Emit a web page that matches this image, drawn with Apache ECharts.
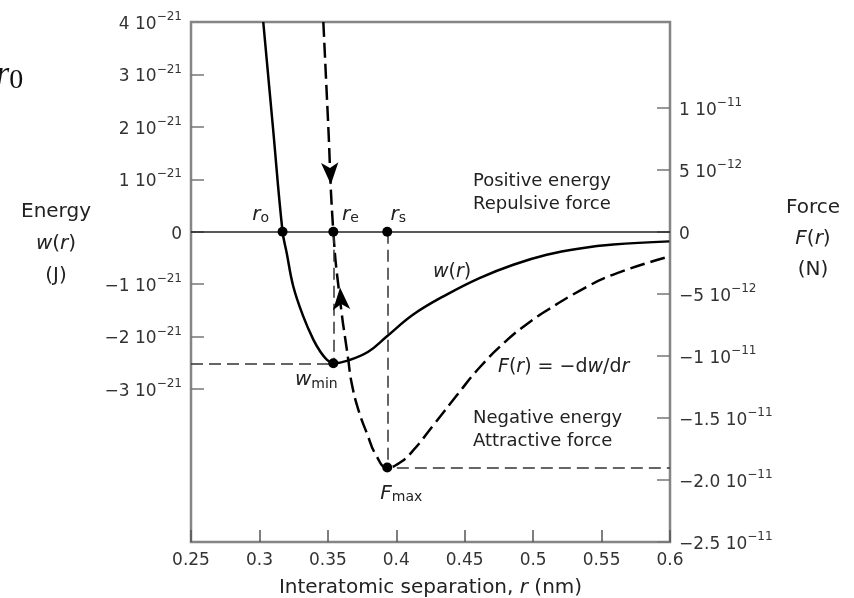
<!DOCTYPE html>
<html>
<head>
<meta charset="utf-8">
<script src="https://cdn.jsdelivr.net/npm/echarts@6/dist/echarts.min.js"></script>
<style>
  html, body { margin: 0; padding: 0; background: #fff; }
  #chart { width: 854px; height: 598px; }
</style>
</head>
<body>
<div id="chart"></div>
<script>
// energy curve w(r), energy in units of 1e-21 J
const rW = [0.3028, 0.3097, 0.3169, 0.3199, 0.3247, 0.3321, 0.3394, 0.3443, 0.3492, 0.354,
  0.3645, 0.3795, 0.393, 0.4124, 0.4368, 0.4612, 0.4855, 0.5099, 0.5342, 0.5586, 0.5995]
const wVals = [4.0, 2.04, 0, -0.40, -1.04, -1.62, -2.06, -2.28, -2.44, -2.51,
  -2.46, -2.29, -2.0, -1.58, -1.20, -0.88, -0.63, -0.44, -0.32, -0.245, -0.185]

// force curve F(r), force in units of 1e-11 N
const rF = [0.3467, 0.3501, 0.354, 0.3589, 0.3649, 0.3674, 0.3723, 0.3784, 0.3857, 0.3934,
  0.4027, 0.4125, 0.427, 0.4441, 0.4612, 0.4807, 0.4953, 0.5099, 0.5342, 0.5586, 0.5995]
const fVals = [1.69, 0.90, 0, -0.548, -1.03, -1.22, -1.435, -1.62, -1.81, -1.90,
  -1.86, -1.76, -1.56, -1.32, -1.09, -0.875, -0.745, -0.635, -0.475, -0.345, -0.20]

// special points
const r0 = 0.3169
const re = 0.354
const rs = 0.3934
const wMin = -2.51
const fMax = -1.90
const arrowDown = [0.3522, 0.38]
const arrowUp = [0.3589, -0.45]

// ticks
const xTicks = [0.25, 0.3, 0.35, 0.4, 0.45, 0.5, 0.55, 0.6]
const leftTicks = [-3, -2, -1, 0, 1, 2, 3]
const leftLabels = [-3, -2, -1, 0, 1, 2, 3, 4]
const rightTicks = [-2.5, -2, -1.5, -1, -0.5, 0, 0.5, 1]
const rightLabels = ['−2.5 10{s|−11}', '−2.0 10{s|−11}', '−1.5 10{s|−11}', '−1 10{s|−11}',
  '−5 10{s|−12}', '0', '5 10{s|−12}', '1 10{s|−11}']

const FONT = 'DejaVu Sans'
const supRich = {
  b: { fontSize: 17, lineHeight: 22, verticalAlign: 'bottom', color: '#333', fontFamily: FONT },
  s: { fontSize: 12, lineHeight: 12, verticalAlign: 'top', color: '#333', fontFamily: FONT }
}
const labRich = {
  n: { fontSize: 20, color: '#222', fontFamily: FONT },
  i: { fontSize: 20, color: '#222', fontFamily: FONT, fontStyle: 'italic' },
  sub: { fontSize: 14, color: '#222', fontFamily: FONT, padding: [8, 0, 0, 0] }
}

const chart = echarts.init(document.getElementById('chart'))

const dashGuide = { color: '#333', width: 1.5, type: [12, 6] }
const dot = (coord, label, offset) => ({
  coord,
  symbol: 'circle',
  symbolSize: 10,
  itemStyle: { color: '#000' },
  label: {
    show: !!label,
    formatter: label || '',
    position: 'inside',
    offset: offset || [0, 0],
    rich: labRich
  }
})

chart.setOption({
  animation: false,
  grid: {
    left: 191, right: 184, top: 22, bottom: 56,
    outerBoundsMode: 'none',
    containLabel: false,
    show: true, borderColor: '#858585', borderWidth: 2.5, backgroundColor: 'transparent'
  },
  xAxis: {
    type: 'value',
    min: 0.25,
    max: 0.6,
    axisLine: { show: false, onZero: false },
    splitLine: { show: false },
    axisTick: { show: true, inside: true, length: 12, customValues: xTicks, lineStyle: { color: '#555', width: 1.5 } },
    axisLabel: { customValues: xTicks, margin: 10, fontSize: 17, color: '#333', fontFamily: FONT },
    name: '{n|Interatomic separation, }{i|r}{n| (nm)}',
    nameLocation: 'middle',
    nameGap: 36,
    nameTextStyle: { rich: labRich }
  },
  yAxis: [
    {
      type: 'value',
      min: -5.92,
      max: 4,
      axisLine: { show: false, onZero: false },
      splitLine: { show: false },
      axisTick: { show: true, inside: true, length: 13, customValues: leftTicks, lineStyle: { color: '#777', width: 1.5 } },
      axisLabel: {
        customValues: leftLabels,
        margin: 9,
        rich: supRich,
        formatter(v) {
          if (v === 0) return '{b|0}'
          return `{b|${v < 0 ? '−' : ''}${Math.abs(v)} 10}{s|−21}`
        }
      }
    },
    {
      type: 'value',
      position: 'right',
      min: -2.5,
      max: 1.69,
      axisLine: { show: false, onZero: false },
      splitLine: { show: false },
      axisTick: { show: true, inside: true, length: 13, customValues: rightTicks, lineStyle: { color: '#777', width: 1.5 } },
      axisLabel: {
        customValues: rightTicks,
        margin: 9,
        rich: supRich,
        formatter(v) {
          const i = rightTicks.findIndex((t) => Math.abs(t - v) < 1e-6)
          const txt = i >= 0 ? rightLabels[i] : String(v)
          return txt.indexOf('{s|') >= 0 ? '{b|' + txt.replace('{s|', '}{s|') : '{b|' + txt + '}'
        }
      }
    }
  ],
  series: [
    {
      name: 'w(r)',
      type: 'line',
      yAxisIndex: 0,
      data: rW.map((r, i) => [r, wVals[i]]),
      smooth: 0.4,
      showSymbol: false,
      lineStyle: { color: '#000', width: 2.5 },
      z: 3,
      markLine: {
        silent: true,
        symbol: ['none', 'none'],
        label: { show: false },
        data: [
          { yAxis: 0, lineStyle: { color: '#222', width: 1.5, type: 'solid' } },
          [{ coord: [0.25, wMin], lineStyle: dashGuide }, { coord: [re, wMin] }],
          [{ coord: [re, 0], lineStyle: dashGuide }, { coord: [re, wMin] }]
        ]
      },
      markPoint: {
        silent: true,
        z: 6,
        data: [
          dot([r0, 0], '{i|r}{sub|o}', [-22, -17]),
          dot([re, 0], '{i|r}{sub|e}', [17, -17]),
          dot([re, wMin], '{i|w}{sub|min}', [-17, 17])
        ]
      }
    },
    {
      name: 'F(r)',
      type: 'line',
      yAxisIndex: 1,
      data: rF.map((r, i) => [r, fVals[i]]),
      smooth: 0.5,
      showSymbol: false,
      lineStyle: { color: '#000', width: 2.5, type: [15, 6] },
      z: 3,
      markLine: {
        silent: true,
        symbol: ['none', 'none'],
        label: { show: false },
        data: [
          [{ coord: [rs, 0], lineStyle: dashGuide }, { coord: [rs, fMax] }],
          [{ coord: [rs + 0.007, fMax], lineStyle: dashGuide }, { coord: [0.6, fMax] }]
        ]
      },
      markPoint: {
        silent: true,
        z: 6,
        data: [
          dot([rs, 0], '{i|r}{sub|s}', [11, -17]),
          dot([rs, fMax], '{i|F}{sub|max}', [14, 26]),
          { coord: arrowDown, symbol: 'arrow', symbolSize: [13, 22], symbolRotate: 183, itemStyle: { color: '#000' }, label: { show: false } },
          { coord: arrowUp, symbol: 'arrow', symbolSize: [13, 22], symbolRotate: 4, itemStyle: { color: '#000' }, label: { show: false } }
        ]
      }
    }
  ],
  graphic: [
    {
      type: 'text', left: -4, top: 58,
      style: {
        text: '{r|r}{z|0}',
        rich: {
          r: { fontSize: 34, fontFamily: 'Liberation Serif', fontStyle: 'italic', fill: '#111' },
          z: { fontSize: 28, fontFamily: 'Liberation Serif', fill: '#111', padding: [12, 0, 0, 0] }
        }
      }
    },
    {
      type: 'text', x: 56, y: 244,
      style: {
        text: '{n|Energy}\n{i|w}{n|(}{i|r}{n|)}\n{n|(J)}',
        align: 'center', verticalAlign: 'middle',
        rich: {
          n: { fontSize: 20, lineHeight: 32, fontFamily: FONT, fill: '#222' },
          i: { fontSize: 20, lineHeight: 32, fontFamily: FONT, fill: '#222', fontStyle: 'italic' }
        }
      }
    },
    {
      type: 'text', x: 813, y: 239,
      style: {
        text: '{n|Force}\n{i|F}{n|(}{i|r}{n|)}\n{n|(N)}',
        align: 'center', verticalAlign: 'middle',
        rich: {
          n: { fontSize: 20, lineHeight: 31, fontFamily: FONT, fill: '#222' },
          i: { fontSize: 20, lineHeight: 31, fontFamily: FONT, fill: '#222', fontStyle: 'italic' }
        }
      }
    },
    {
      type: 'text', x: 473, y: 193,
      style: { text: 'Positive energy\nRepulsive force', fontSize: 18, lineHeight: 23, fontFamily: FONT, fill: '#222', verticalAlign: 'middle' }
    },
    {
      type: 'text', x: 473, y: 430,
      style: { text: 'Negative energy\nAttractive force', fontSize: 18, lineHeight: 23, fontFamily: FONT, fill: '#222', verticalAlign: 'middle' }
    },
    {
      type: 'text', x: 433, y: 272,
      style: {
        text: '{i|w}{n|(}{i|r}{n|)}', verticalAlign: 'middle',
        rich: {
          n: { fontSize: 19, fontFamily: FONT, fill: '#222' },
          i: { fontSize: 19, fontFamily: FONT, fill: '#222', fontStyle: 'italic' }
        }
      }
    },
    {
      type: 'text', x: 498, y: 367,
      style: {
        text: '{i|F}{n|(}{i|r}{n|) = −d}{i|w}{n|/d}{i|r}', verticalAlign: 'middle',
        rich: {
          n: { fontSize: 19, fontFamily: FONT, fill: '#222' },
          i: { fontSize: 19, fontFamily: FONT, fill: '#222', fontStyle: 'italic' }
        }
      }
    }
  ]
})
</script>
</body>
</html>
